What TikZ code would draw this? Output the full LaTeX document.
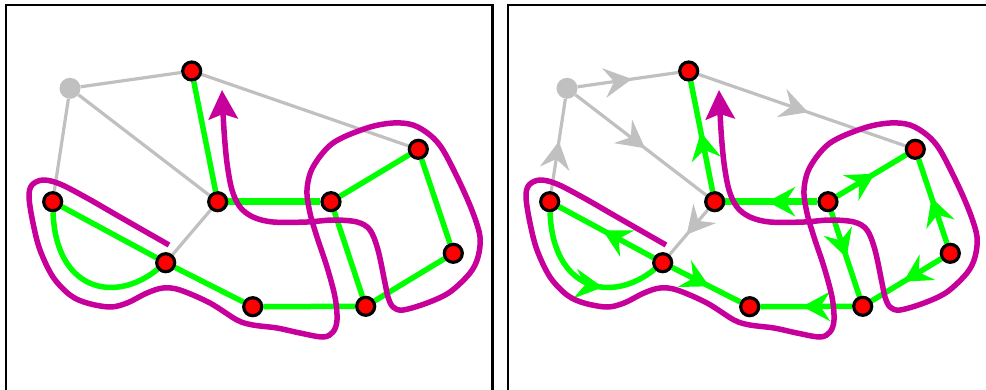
\documentclass[tikz,border=0pt]{standalone}
\usetikzlibrary{arrows.meta,decorations.markings}
\definecolor{gedge}{RGB}{192,192,192}
\definecolor{grn}{RGB}{0,255,0}
\definecolor{mag}{RGB}{200,0,155}
\pgfdeclarelayer{bg}
\pgfsetlayers{bg,main}
\tikzset{
 rnode/.style={circle,draw=black,fill=red,line width=3.2pt,minimum size=18pt,inner sep=0pt},
 gnode/.style={circle,fill=gedge,minimum size=21pt,inner sep=0pt},
 grayedge/.style={draw,color=gedge,line width=3.2pt},
 greenedge/.style={draw,color=grn,line width=5.5pt},
 panelframe/.style={draw=black,line width=2.5pt},
 loopcurve/.style={draw=mag,line width=5.5pt,-{Stealth[length=29pt,width=29pt,inset=5pt]}},
 plain/.style={},
 midarrow/.style={postaction={decorate},decoration={markings,mark=at position #1 with {\fill[line width=0pt] (2pt,0pt) -- (-26pt,15pt) -- (-16pt,0pt) -- (-26pt,-15pt) -- cycle;}}},
 midarrow/.default=0.52,
}
\newcommand\drawpanel[3]{%
\begin{scope}[xshift=#2]
 \node[gnode] (#1G) at (70,88.3) {};
 \node[rnode] (#1T) at (191.7,71) {};
 \node[rnode] (#1A) at (52.7,201.7) {};
 \node[rnode] (#1B) at (165.7,262.7) {};
 \node[rnode] (#1C) at (217.7,201.7) {};
 \node[rnode] (#1D) at (331,201.7) {};
 \node[rnode] (#1E) at (418.3,149.3) {};
 \node[rnode] (#1F) at (453.3,253.3) {};
 \node[rnode] (#1H) at (365.7,306.3) {};
 \node[rnode] (#1I) at (252.7,306.7) {};
 \begin{pgfonlayer}{bg}
  \draw[grayedge,#3] (#1G) -- (#1T);
  \draw[grayedge,#3] (#1T) -- (#1E);
  \draw[grayedge,#3] (#1A) -- (#1G);
  \draw[grayedge,#3] (#1G) -- (#1C);
  \draw[grayedge,#3] (#1C) -- (#1B);
  \draw[greenedge,#3] (#1C) -- (#1T);
  \draw[greenedge,line width=6.5pt,#3] (#1D) -- (#1C);
  \draw[greenedge,#3] (#1D) -- (#1E);
  \draw[greenedge,#3] (#1F) -- (#1E);
  \draw[greenedge,#3] (#1F) -- (#1H);
  \draw[greenedge,#3] (#1D) -- (#1H);
  \draw[greenedge,#3] (#1H) -- (#1I);
  \draw[greenedge,#3] (#1B) -- (#1I);
  \draw[greenedge,#3] (#1B) -- (#1A);
  \draw[greenedge,#3=0.63] (#1A) .. controls +(3,88) and +(-52,42) .. (#1B);
 \end{pgfonlayer}
 \draw[loopcurve] plot[smooth,tension=0.55] coordinates {
  (169,245) (120,217) (87,198) (60,184) (43,180) (32,185) (29,197) (33,223)
  (40,250) (53,277) (70,295) (87,303) (110,307) (127,303) (147,293) (163,288)
  (180,290) (210,303) (237,320) (253,325) (277,328) (300,333) (323,337)
  (333,332) (337,320) (335,297) (327,267) (317,237) (310,213) (307,190)
  (313,167) (333,143) (367,128) (393,123) (413,125) (430,135) (443,150)
  (460,183) (473,213) (480,237) (478,257) (470,273) (450,292) (427,303)
  (403,310) (393,307) (388,297) (385,283) (378,250) (370,230) (357,222)
  (333,220) (307,222) (273,222) (253,217) (240,207) (232,190) (227,163)
  (224,130) (222,90)};
\end{scope}}
\begin{document}
\begin{tikzpicture}[x=1pt,y=-1pt]
 \useasboundingbox (0,0) rectangle (986,389);
 \clip (0,0) rectangle (986,389);
 \draw[panelframe] (6,5) rectangle (492.5,400);
 \draw[panelframe] (508,5) rectangle (1000,400);
 \drawpanel{L}{0pt}{plain}
 \drawpanel{R}{497pt}{midarrow}
\end{tikzpicture}
\end{document}
